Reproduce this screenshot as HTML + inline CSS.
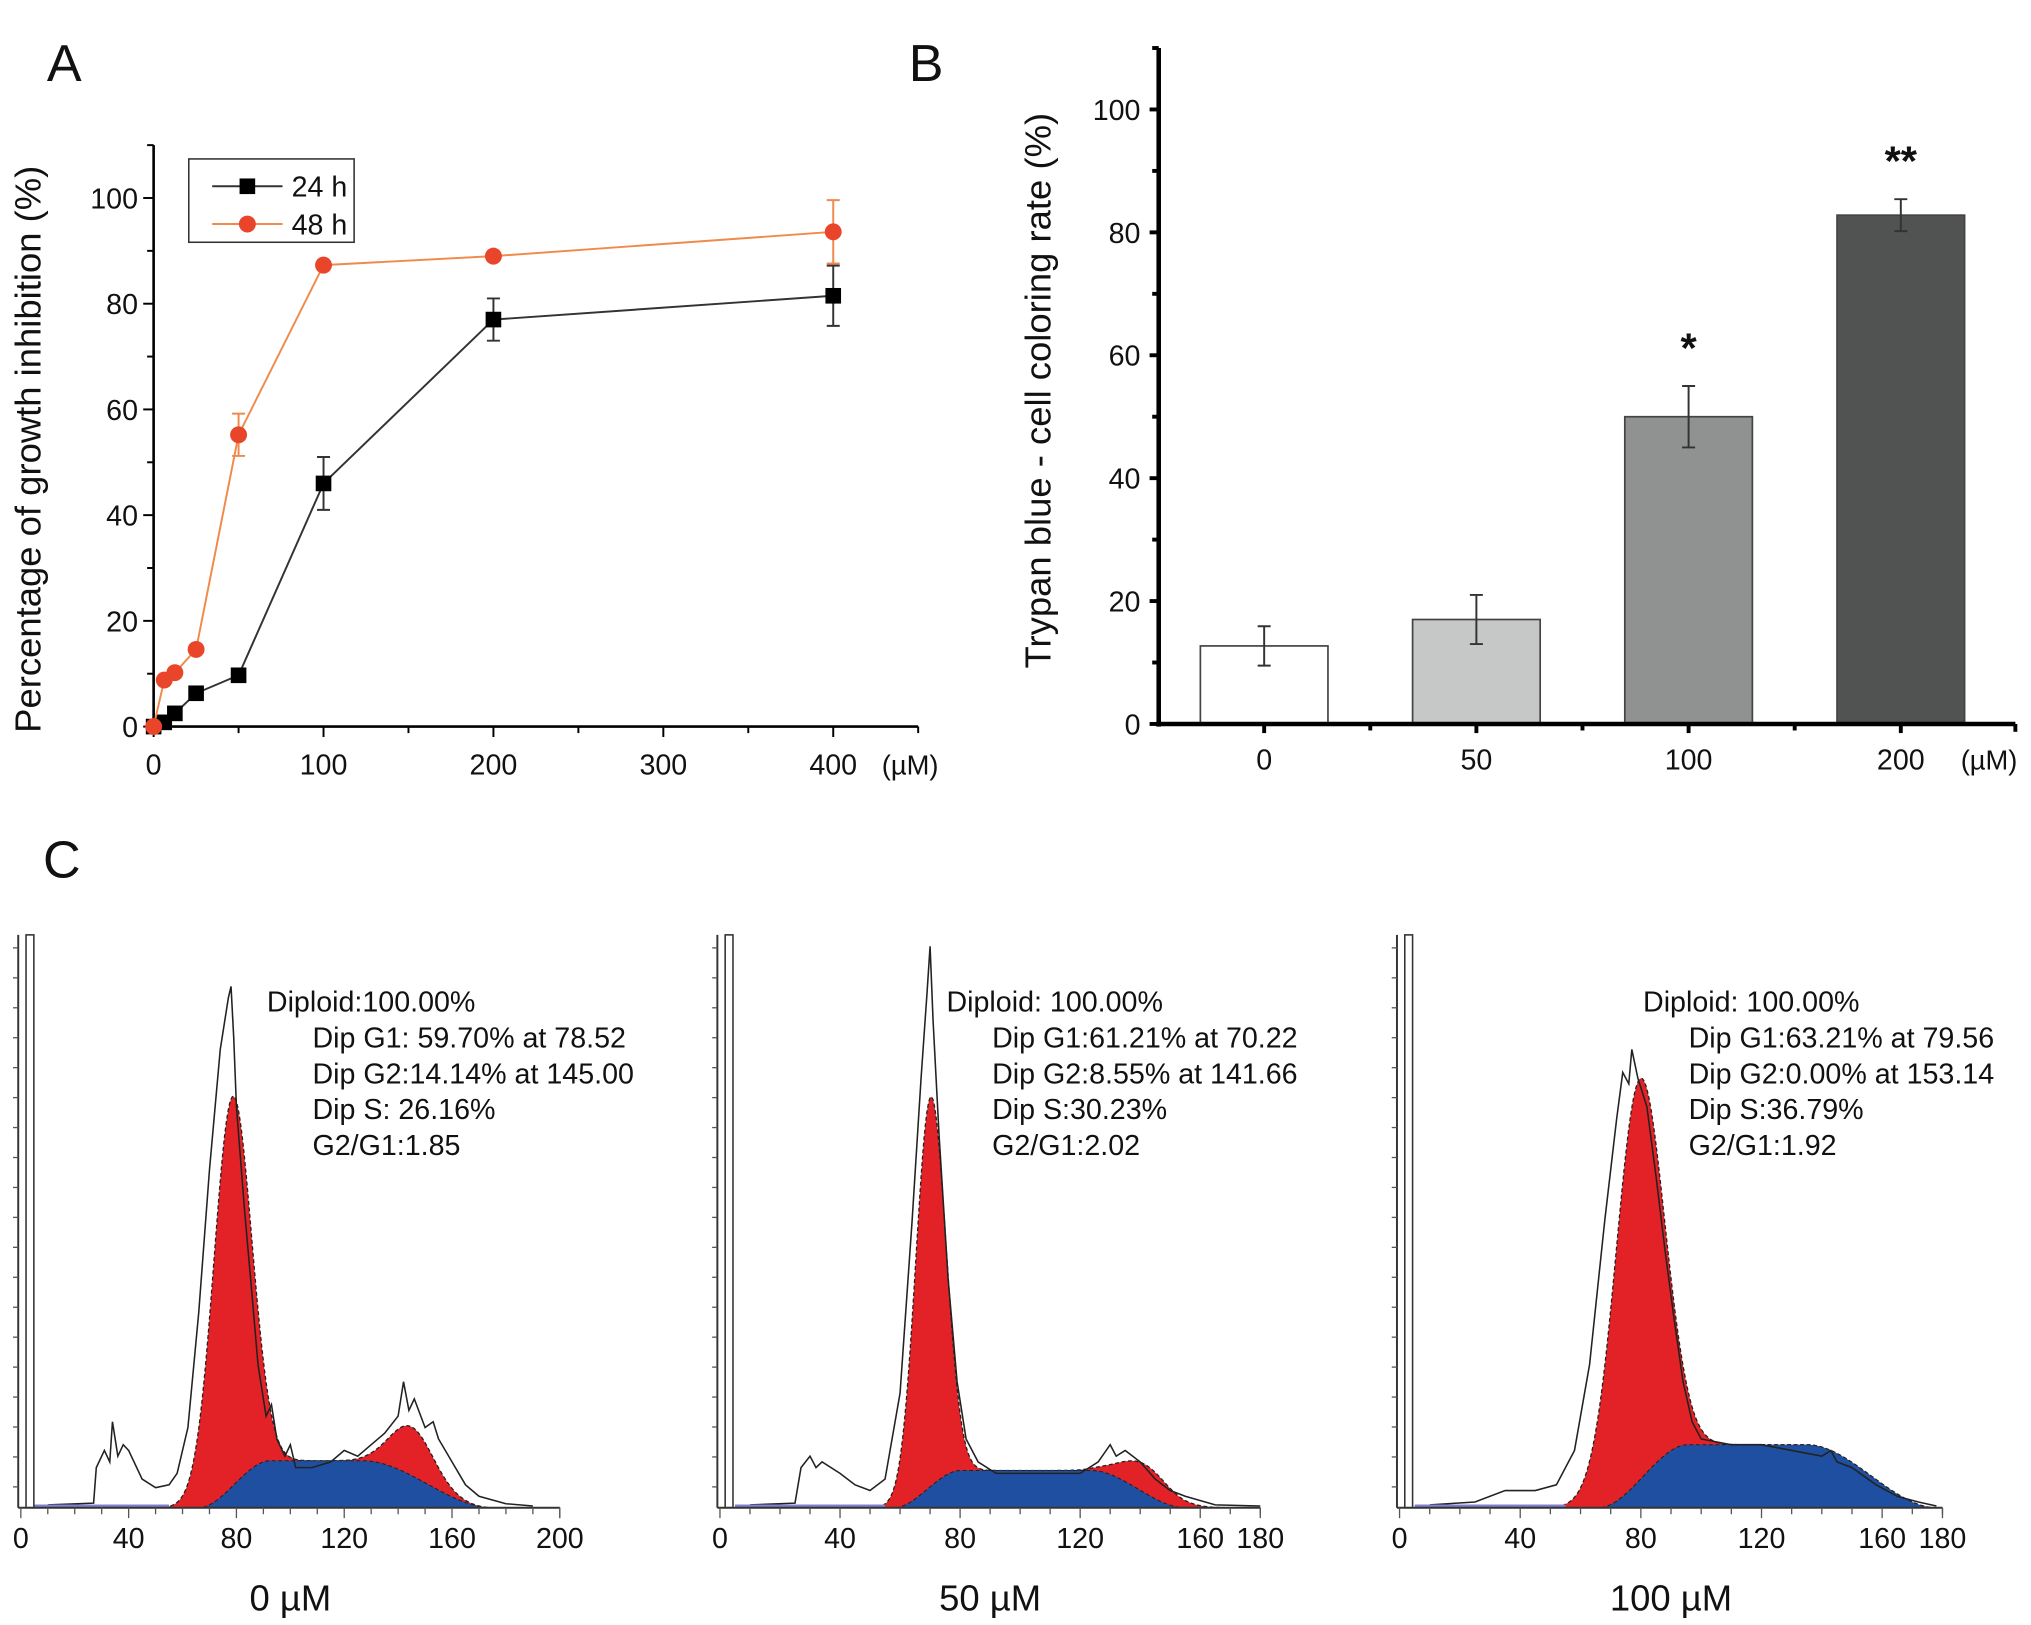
<!DOCTYPE html>
<html><head><meta charset="utf-8"><style>
html,body{margin:0;padding:0;background:#fff}
svg{display:block}
text{font-family:"Liberation Sans",sans-serif;fill:#111}
</style></head><body>
<svg id="fig" width="2031" height="1625" viewBox="0 0 1560 1248" xmlns="http://www.w3.org/2000/svg">
<rect width="1560" height="1248" fill="#fff"/>
<text x="36" y="62" font-size="40">A</text>
<text x="698" y="62" font-size="40">B</text>
<text x="33" y="674" font-size="40">C</text>
<g id="pa"></g>
<g id="pb"></g>
<g id="pc"></g>
</svg>
<script>
// Panel A data
const concA = [0, 6.25, 12.5, 25, 50, 100, 200, 400];
const val24 = [0, 0.8, 2.5, 6.3, 9.7, 46, 77, 81.5];
const err24 = [0, 0, 0, 0, 0, 5, 4, 5.7];
const val48 = [0, 8.8, 10.2, 14.6, 55.2, 87.3, 89, 93.6];
const err48 = [0, 0, 0, 0, 4, 0, 0, 6];
const ticksAY = [0, 20, 40, 60, 80, 100];
const ticksAX = [0, 100, 200, 300, 400];
// Panel B data
const catsB = ["0", "50", "100", "200"];
const valB = [12.7, 17, 50, 82.8];
const errB = [3.2, 4, 5, 2.6];
const starsB = ["", "", "*", "**"];
const ticksBY = [0, 20, 40, 60, 80, 100];
// Panel C data (histograms)
const labelsC = ["0 µM", "50 µM", "100 µM"];
const g1Mu = [78.5, 70.2, 79.6];
const g1H = [68, 68, 70];
const g1Sd = [7, 5, 8];
const g2Mu = [145, 141.7, 153];
const g2H = [8.5, 5, 0];
const sH = [8.2, 6.5, 11];
const sStart = [66, 58, 66];
const sEnd = [175, 155, 178];
const textsC = [
 ["Diploid:100.00%","Dip G1: 59.70% at 78.52","Dip G2:14.14% at 145.00","Dip S: 26.16%","G2/G1:1.85"],
 ["Diploid: 100.00%","Dip G1:61.21% at 70.22","Dip G2:8.55%  at 141.66","Dip S:30.23%","G2/G1:2.02"],
 ["Diploid: 100.00%","Dip G1:63.21% at 79.56","Dip G2:0.00% at 153.14","Dip S:36.79%","G2/G1:1.92"]];
const outline0 = [[10,0.5],[27,0.8],[28,7],[31,10],[33,8],[34,15],[36,9],[38,11],[40,10],[45,5],[50,3.5],[55,4],[58,6],[62,14],[66,34],[70,59],[74,80],[76,86],[77,89],[78,91],[79,82],[80,70],[83,52],[86,36],[88,25],[91,16],[93,18],[95,12],[98,9],[100,11],[102,7],[108,7],[115,8],[120,10],[125,9],[130,11],[135,13],[140,16],[142,22],[144,17],[146,19],[150,14],[153,15],[155,12],[160,8],[165,4],[170,2],[180,0.7],[190,0.3]];
const outline1 = [[10,0.5],[25,0.8],[27,7],[30,9],[32,7],[34,8],[40,6],[45,4],[50,3],[55,5],[60,20],[64,50],[67,75],[69,90],[70,98],[71,85],[73,65],[76,40],[79,22],[82,12],[86,8],[92,6],[100,6],[110,6],[120,6],[126,8],[130,11],[132,9],[135,10],[140,8],[145,5],[150,3],[155,2],[165,0.5],[180,0.3]];
const outline2 = [[10,0.5],[25,1],[35,3],[45,3],[52,4],[58,10],[63,25],[68,50],[72,68],[74,76],[76,74],[77,80],[79,75],[82,70],[85,58],[88,45],[91,33],[94,22],[97,15],[100,12],[110,11],[120,11],[130,10],[140,9],[143,10],[145,8],[150,7],[158,4],[165,2],[172,1],[178,0.3]];
const outlines = [outline0, outline1, outline2];
const axMaxC = [200, 180, 180];
const ticksC = [[0,40,80,120,160,200],[0,40,80,120,160,180],[0,40,80,120,160,180]];

const NS = "http://www.w3.org/2000/svg";
function mk(parent, tag, attrs, txt){const e=document.createElementNS(NS,tag);for(const k in attrs)e.setAttribute(k,attrs[k]);if(txt!==undefined)e.textContent=txt;parent.appendChild(e);return e;}

// ---------- Panel A ----------
const pa = document.getElementById('pa');
const ax0=118, ay0=558, axW=1.305, ayK=4.06;
const xA = v => ax0 + v*axW;
const yA = v => ay0 - v*ayK;
let e;
e=mk(pa,'line',{x1:ax0,y1:yA(110),x2:ax0,y2:ay0,stroke:'#000','stroke-width':2});
 
e=mk(pa,'line',{x1:ax0,y1:ay0,x2:xA(450),y2:ay0,stroke:'#000','stroke-width':2});
 
for(let v=0;v<=110;v+=10){mk(pa,'line',{x1:ax0-(v%20===0?8:5),y1:yA(v),x2:ax0,y2:yA(v),stroke:'#000','stroke-width':1.5});}
ticksAY.forEach(v=>{e=mk(pa,'text',{x:ax0-12,y:yA(v)+8,'font-size':22,'text-anchor':'end'},v);
  });
for(let v=0;v<=450;v+=50){mk(pa,'line',{x1:xA(v),y1:ay0,x2:xA(v),y2:ay0+(v%100===0?8:5),stroke:'#000','stroke-width':1.5});}
ticksAX.forEach(v=>{e=mk(pa,'text',{x:xA(v),y:ay0+37,'font-size':22,'text-anchor':'middle'},v);
  });
e=mk(pa,'text',{x:xA(450)-28,y:ay0+37,'font-size':21},'(µM)');
 
e=mk(pa,'text',{x:0,y:0,'font-size':28,'text-anchor':'middle',transform:'translate(31,345) rotate(-90)'},'Percentage of growth inhibition (%)');
 
function seriesA(vals,errs,color,marker,name){
 const g=mk(pa,'g',{});
  
 mk(g,'polyline',{points:concA.map((c,i)=>xA(c)+','+yA(vals[i])).join(' '),fill:'none',stroke:color,'stroke-width':1.5});
 concA.forEach((c,i)=>{
  if(errs[i]>0){const x=xA(c);mk(g,'path',{d:`M${x},${yA(vals[i]-errs[i])}V${yA(vals[i]+errs[i])}M${x-5},${yA(vals[i]-errs[i])}h10M${x-5},${yA(vals[i]+errs[i])}h10`,stroke:color,'stroke-width':1.5,fill:'none'});}
  let m;
  if(marker==='sq') m=mk(g,'rect',{x:xA(c)-6,y:yA(vals[i])-6,width:12,height:12,fill:'#000'});
  else m=mk(g,'circle',{cx:xA(c),cy:yA(vals[i]),r:6.5,fill:'#e8452a'});
   
 });
}
seriesA(val24,err24,'#333','sq','series-24h');
seriesA(val48,err48,'#f08a4b','ci','series-48h');
const lg=mk(pa,'g',{});  
mk(lg,'rect',{x:145,y:122,width:127,height:64,fill:'#fff',stroke:'#333','stroke-width':1.2});
mk(lg,'line',{x1:163,y1:143,x2:217,y2:143,stroke:'#333','stroke-width':1.5});
mk(lg,'rect',{x:184,y:137,width:12,height:12,fill:'#000'});
mk(lg,'text',{x:224,y:151,'font-size':22},'24 h');
mk(lg,'line',{x1:163,y1:172,x2:217,y2:172,stroke:'#f08a4b','stroke-width':1.5});
mk(lg,'circle',{cx:190,cy:172,r:6.5,fill:'#e8452a'});
mk(lg,'text',{x:224,y:180,'font-size':22},'48 h');

// ---------- Panel B ----------
const pb=document.getElementById('pb');
const bx0=890, by0=556, byK=4.72, bStep=163, bFirst=971, bW=98;
const yB=v=>by0-v*byK;
const xB=i=>bFirst+i*bStep;
const bFills=['#ffffff','#c5c8c6','#8f9290','#505352'];
catsB.forEach((c,i)=>{
 e=mk(pb,'rect',{x:xB(i)-bW/2,y:yB(valB[i]),width:bW,height:valB[i]*byK,fill:bFills[i],stroke:'#444','stroke-width':1.3});
  
 const x=xB(i),lo=yB(valB[i]-errB[i]),hi=yB(valB[i]+errB[i]);
 e=mk(pb,'path',{d:`M${x},${lo}V${hi}M${x-5},${lo}h10M${x-5},${hi}h10`,stroke:'#333','stroke-width':1.5,fill:'none'});
  
 if(starsB[i]){e=mk(pb,'text',{x:x,y:hi-18,'font-size':32,'text-anchor':'middle','font-weight':'bold'},starsB[i]);
   }
 e=mk(pb,'text',{x:x,y:by0+35,'font-size':22,'text-anchor':'middle'},c);
  
 mk(pb,'line',{x1:x,y1:by0,x2:x,y2:by0+7,stroke:'#000','stroke-width':3});
 if(i<3) mk(pb,'line',{x1:x+bStep/2,y1:by0,x2:x+bStep/2,y2:by0+5,stroke:'#000','stroke-width':3});
});
e=mk(pb,'line',{x1:bx0,y1:yB(110),x2:bx0,y2:by0+2,stroke:'#000','stroke-width':3.5});
 
e=mk(pb,'line',{x1:bx0-2,y1:by0,x2:1548,y2:by0,stroke:'#000','stroke-width':3.5});
 
mk(pb,'line',{x1:1548,y1:by0,x2:1548,y2:by0+6,stroke:'#000','stroke-width':3});
for(let v=0;v<=110;v+=10){mk(pb,'line',{x1:bx0-(v%20===0?7:5),y1:yB(v),x2:bx0,y2:yB(v),stroke:'#000','stroke-width':3});}
ticksBY.forEach(v=>{e=mk(pb,'text',{x:bx0-14,y:yB(v)+8,'font-size':22,'text-anchor':'end'},v);
  });
e=mk(pb,'text',{x:1506,y:by0+35,'font-size':21},'(µM)');
 
e=mk(pb,'text',{x:0,y:0,'font-size':28,'text-anchor':'middle',transform:'translate(807,300) rotate(-90)'},'Trypan blue - cell coloring rate (%)');
 

// ---------- Panel C ----------
const pc=document.getElementById('pc');
const hx0=[16,553,1075], hx1=[430,968,1492], hBase=1158, hTop=718, hK=4.4;
const textX=[205,727,1262];
for(let p=0;p<3;p++){
 const g=mk(pc,'g',{});  
 const kx=(hx1[p]-hx0[p])/axMaxC[p];
 const xC=c=>hx0[p]+c*kx, yC=h=>hBase-h*hK;
 const chans=[]; for(let c=0;c<=axMaxC[p];c+=0.5) chans.push(c);
 const g1=c=>g1H[p]*Math.exp(-0.5*Math.pow((c-g1Mu[p])/g1Sd[p],2));
 const g2=c=>g2H[p]*Math.exp(-0.5*Math.pow((c-g2Mu[p])/8,2));
 const sRise=g1Mu[p]+2*g1Sd[p];
 const sf=c=>{if(c<sStart[p]||c>sEnd[p])return 0;
   if(c<sRise){const t=(c-sStart[p])/(sRise-sStart[p]);return sH[p]*t*t*(3-2*t);}
   const fall=g2Mu[p]-18; if(c<fall) return sH[p];
   const t=Math.max(0,(sEnd[p]-c)/(sEnd[p]-fall)); return sH[p]*t*t*(3-2*t);};
 let d='M'+xC(chans[0])+','+hBase;
 chans.forEach(c=>{d+='L'+xC(c)+','+yC(g1(c)+sf(c)+g2(c));}); d+='L'+xC(axMaxC[p])+','+hBase+'Z';
 e=mk(g,'path',{d:d,fill:'#e32227',stroke:'#222','stroke-width':1,'stroke-dasharray':'3,2'});
  
 d='M'+xC(chans[0])+','+hBase;
 chans.forEach(c=>{d+='L'+xC(c)+','+yC(sf(c));}); d+='L'+xC(axMaxC[p])+','+hBase+'Z';
 e=mk(g,'path',{d:d,fill:'#1f4fa0',stroke:'#222','stroke-width':0.8,'stroke-dasharray':'3,2'});
  
 e=mk(g,'polyline',{points:outlines[p].map(q=>xC(q[0])+','+yC(q[1])).join(' '),fill:'none',stroke:'#222','stroke-width':1.2});
  
 mk(g,'line',{x1:xC(5),y1:hBase-1,x2:xC(55),y2:hBase-1,stroke:'#8080d0','stroke-width':3});
 mk(g,'line',{x1:hx0[p]-2,y1:hTop,x2:hx0[p]-2,y2:hBase,stroke:'#333','stroke-width':1.5});
 for(let y=hTop+10;y<hBase;y+=23) mk(g,'line',{x1:hx0[p]-6,y1:y,x2:hx0[p]-2,y2:y,stroke:'#555','stroke-width':1});
 mk(g,'rect',{x:hx0[p]+4,y:hTop,width:6,height:hBase-hTop,fill:'none',stroke:'#333','stroke-width':1.2});
 mk(g,'line',{x1:hx0[p]-2,y1:hBase,x2:hx1[p],y2:hBase,stroke:'#333','stroke-width':1.5});
 for(let c=0;c<=axMaxC[p];c+=10) mk(g,'line',{x1:xC(c),y1:hBase,x2:xC(c),y2:hBase+(c%40===0?8:5),stroke:'#555','stroke-width':1});
 mk(g,'line',{x1:hx1[p],y1:hBase,x2:hx1[p],y2:hBase+8,stroke:'#555','stroke-width':1});
 ticksC[p].forEach((t,i)=>{const x=(i===ticksC[p].length-1)?hx1[p]:xC(t);
  e=mk(g,'text',{x:x,y:hBase+31,'font-size':22,'text-anchor':'middle'},t);
   });
 e=mk(g,'text',{x:(hx0[p]+hx1[p])/2,y:1237,'font-size':28,'text-anchor':'middle'},labelsC[p]);
  
 textsC[p].forEach((t,i)=>{
  e=mk(g,'text',{x:textX[p]+(i===0?0:35),y:777+i*27.5,'font-size':22,'xml:space':'preserve'},t);
   });
}
</script>
</body></html>
